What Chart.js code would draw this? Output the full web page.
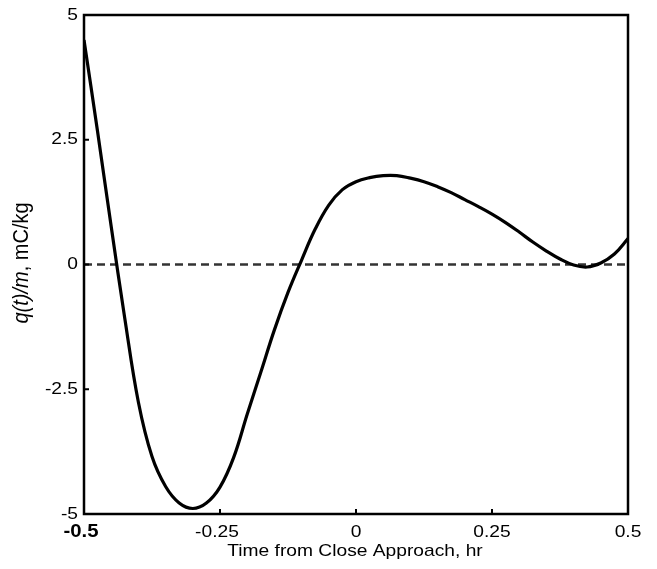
<!DOCTYPE html>
<html>
<head>
<meta charset="utf-8">
<script src="https://cdn.jsdelivr.net/npm/chart.js@4"></script>
<style>
  html, body { margin: 0; padding: 0; background: #fff; }
  #wrap { width: 657px; height: 569px; }
</style>
</head>
<body>
<div id="wrap"><canvas id="chargeChart" width="657" height="569"></canvas></div>
<script>
// time from close approach (hr) and q(t)/m (mC/kg)
const timeHr = [
  -0.5, -0.475, -0.45, -0.425, -0.4, -0.375, -0.35, -0.325, -0.3, -0.275,
  -0.25, -0.225, -0.2, -0.175, -0.15, -0.125, -0.1, -0.075, -0.05, -0.025,
  0, 0.025, 0.05, 0.075, 0.1, 0.125, 0.15, 0.175, 0.2, 0.225,
  0.25, 0.275, 0.3, 0.325, 0.35, 0.375, 0.4, 0.425, 0.45, 0.475, 0.5
];
const chargeRatio = [
  4.5, 2.66, 0.76, -1.08, -2.76, -3.85, -4.45, -4.78, -4.89, -4.78,
  -4.46, -3.87, -3.0, -2.16, -1.31, -0.56, 0.09, 0.71, 1.19, 1.5,
  1.66, 1.74, 1.78, 1.78, 1.73, 1.66, 1.56, 1.44, 1.3, 1.16,
  1.01, 0.84, 0.65, 0.45, 0.27, 0.11, -0.01, -0.05, 0.03, 0.21, 0.52
];
const zeroLine = [0, 0];
const xTicks = [-0.5, -0.25, 0, 0.25, 0.5];
const yTicks = [-5, -2.5, 0, 2.5, 5];
const xTitle = 'Time from Close Approach, hr';
const yTitleItalic = 'q(t)/m';
const yTitleRest = ', mC/kg';

const FONT = '"Liberation Sans", Arial, Helvetica, sans-serif';
const STRETCH = 1.13; // the original lettering is a bit wide

function wideText(ctx, txt, x, y, align) {
  ctx.save();
  ctx.translate(x, y);
  ctx.scale(STRETCH, 1);
  ctx.textAlign = align;
  ctx.fillText(txt, 0, 0);
  ctx.restore();
}

// frame, inward ticks, tick labels and axis titles
const framePlugin = {
  id: 'frame',
  afterDraw(chart) {
    const ctx = chart.ctx;
    const a = chart.chartArea;
    const xs = chart.scales.x, ys = chart.scales.y;
    ctx.save();
    ctx.strokeStyle = '#000';
    ctx.fillStyle = '#000';
    ctx.lineWidth = 2.5;
    ctx.strokeRect(a.left, a.top, a.right - a.left, a.bottom - a.top);
    ctx.lineWidth = 2;
    ctx.textBaseline = 'middle';
    xTicks.forEach(v => {
      const px = xs.getPixelForValue(v);
      ctx.beginPath(); ctx.moveTo(px, a.bottom); ctx.lineTo(px, a.bottom - 5); ctx.stroke();
      ctx.font = (v === -0.5 ? 'bold 18px ' : '17px ') + FONT;
      wideText(ctx, String(v), px - (v < 0 ? 3 : 0), a.bottom + 18, 'center');
    });
    yTicks.forEach(v => {
      const py = ys.getPixelForValue(v);
      ctx.beginPath(); ctx.moveTo(a.left, py); ctx.lineTo(a.left + 5, py); ctx.stroke();
      ctx.font = '17px ' + FONT;
      wideText(ctx, String(v), a.left - 6, py, 'right');
    });

    ctx.textBaseline = 'alphabetic';
    ctx.font = '17px ' + FONT;
    wideText(ctx, xTitle, (a.left + a.right) / 2 - 1, 556, 'center');

    // y title: italic part then plain part, rotated
    ctx.font = 'italic 20px ' + FONT;
    const w1 = ctx.measureText(yTitleItalic).width;
    ctx.font = '20px ' + FONT;
    const w2 = ctx.measureText(yTitleRest).width;
    ctx.translate(28, 263);
    ctx.rotate(-Math.PI / 2);
    ctx.scale(1, 1.08);
    ctx.textAlign = 'left';
    const start = -(w1 + w2) / 2;
    ctx.font = 'italic 20px ' + FONT;
    ctx.fillText(yTitleItalic, start, 0);
    ctx.font = '20px ' + FONT;
    ctx.fillText(yTitleRest, start + w1, 0);
    ctx.restore();
  }
};

new Chart(document.getElementById('chargeChart').getContext('2d'), {
  type: 'line',
  data: {
    datasets: [
      {
        label: 'q/m',
        data: timeHr.map((t, i) => ({ x: t, y: chargeRatio[i] })),
        borderColor: '#000',
        borderWidth: 3.2,
        pointRadius: 0,
        tension: 0.4,
        fill: false,
        order: 0
      },
      {
        label: 'zero',
        data: [{ x: xTicks[0], y: zeroLine[0] }, { x: xTicks[xTicks.length - 1], y: zeroLine[1] }],
        borderColor: '#333',
        borderWidth: 2.5,
        borderDash: [8, 5],
        pointRadius: 0,
        fill: false,
        order: 1
      }
    ]
  },
  options: {
    responsive: false,
    animation: false,
    layout: { padding: { top: 15, right: 29, left: 0, bottom: 0 } },
    plugins: { legend: { display: false }, tooltip: { enabled: false } },
    scales: {
      x: {
        type: 'linear',
        min: -0.5, max: 0.5,
        grid: { display: false, drawTicks: false },
        border: { display: false },
        ticks: { display: false },
        afterFit: s => { s.height = 55; }
      },
      y: {
        type: 'linear',
        min: -5, max: 5,
        grid: { display: false, drawTicks: false },
        border: { display: false },
        ticks: { display: false },
        afterFit: s => { s.width = 84; }
      }
    }
  },
  plugins: [framePlugin]
});
</script>
</body>
</html>
